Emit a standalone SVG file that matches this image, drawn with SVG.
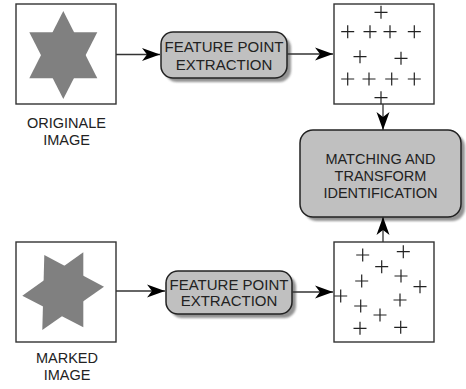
<svg xmlns="http://www.w3.org/2000/svg" width="466" height="389" viewBox="0 0 466 389">
<defs>
<style>
.frame{fill:#fff;stroke:#333;stroke-width:1.4}
.star{fill:#808080}
.proc{fill:#c0c0c0;stroke:#222;stroke-width:1.5}
.shadow{fill:#6e6e6e;opacity:0.75}
.lbl{font-family:"Liberation Sans",Arial,sans-serif;font-size:14.5px;fill:#222;text-anchor:middle}
.ptxt{font-family:"Liberation Sans",Arial,sans-serif;font-size:15px;fill:#222;text-anchor:middle}
.mtxt{font-family:"Liberation Sans",Arial,sans-serif;font-size:14.5px;fill:#222;text-anchor:middle}
.conn{stroke:#333;stroke-width:1.3;fill:none;marker-end:url(#ah)}
.pt{stroke:#222;stroke-width:1.2;fill:none}
</style>
<marker id="ah" markerUnits="userSpaceOnUse" markerWidth="20" markerHeight="14" viewBox="-18 -7 20 14" refX="0" refY="0" orient="auto">
<path d="M0,0 L-18,-6.5 L-13,0 L-18,6.5 Z" fill="#000"/>
</marker>
<path id="plus" d="M-6.5,0 H6.5 M0,-6.5 V6.5"/>
<filter id="blur" x="-10%" y="-10%" width="120%" height="120%"><feGaussianBlur stdDeviation="1"/></filter>
</defs>

<g id="original-image">
<rect class="frame" x="16" y="4" width="100" height="100"/>
<polygon class="star" points="63.3,11 29.3,78.3 97.3,78.3"/>
<polygon class="star" points="63.3,99 29.3,32.3 97.3,32.3"/>
<text class="lbl" x="66.5" y="128">ORIGINALE</text>
<text class="lbl" x="66.5" y="145">IMAGE</text>
</g>

<g id="marked-image">
<rect class="frame" x="16" y="242" width="100" height="100"/>
<polygon class="star" points="44.3,255 104,286.7 42.3,330"/>
<polygon class="star" points="83.3,252.3 83.3,327.3 22.3,295.7"/>
<text class="lbl" x="67" y="363">MARKED</text>
<text class="lbl" x="67" y="379.5">IMAGE</text>
</g>

<g id="feature-extraction-1">
<rect class="shadow" filter="url(#blur)" x="165" y="36" width="126" height="46" rx="12"/>
<rect class="proc" x="161" y="32" width="126" height="46" rx="12"/>
<text class="ptxt" x="224" y="52">FEATURE POINT</text>
<text class="ptxt" x="224" y="69.5">EXTRACTION</text>
</g>

<g id="feature-extraction-2">
<rect class="shadow" filter="url(#blur)" x="170" y="275" width="126" height="43" rx="12"/>
<rect class="proc" x="166" y="271" width="126" height="43" rx="12"/>
<text class="ptxt" x="229" y="289.5">FEATURE POINT</text>
<text class="ptxt" x="229" y="306">EXTRACTION</text>
</g>

<g id="feature-points-1">
<rect class="frame" x="334" y="4" width="100" height="100"/>
<g class="pt">
<use href="#plus" x="381" y="12.3"/>
<use href="#plus" x="347.7" y="31.7"/>
<use href="#plus" x="370" y="31.7"/>
<use href="#plus" x="390" y="31.7"/>
<use href="#plus" x="414.3" y="31.7"/>
<use href="#plus" x="360" y="56.7"/>
<use href="#plus" x="401" y="58.3"/>
<use href="#plus" x="347.7" y="79"/>
<use href="#plus" x="369" y="79"/>
<use href="#plus" x="391.7" y="79"/>
<use href="#plus" x="414.3" y="79"/>
<use href="#plus" x="381" y="97.7"/>
</g>
</g>

<g id="feature-points-2">
<rect class="frame" x="334" y="242" width="100" height="100"/>
<g class="pt">
<use href="#plus" x="362.7" y="255"/>
<use href="#plus" x="403.3" y="251.7"/>
<use href="#plus" x="381.7" y="266.7"/>
<use href="#plus" x="401" y="276"/>
<use href="#plus" x="361.7" y="281"/>
<use href="#plus" x="420" y="286.7"/>
<use href="#plus" x="340.7" y="296"/>
<use href="#plus" x="400" y="300"/>
<use href="#plus" x="360.7" y="306"/>
<use href="#plus" x="380" y="315"/>
<use href="#plus" x="360" y="328.3"/>
<use href="#plus" x="400.7" y="327.3"/>
</g>
</g>

<g id="matching">
<rect class="shadow" filter="url(#blur)" x="304" y="134" width="161" height="87" rx="13"/>
<rect class="proc" x="300" y="130" width="161" height="87" rx="13"/>
<text class="mtxt" x="380.5" y="164">MATCHING AND</text>
<text class="mtxt" x="380.5" y="181">TRANSFORM</text>
<text class="mtxt" x="380.5" y="198">IDENTIFICATION</text>
</g>

<g id="connectors">
<line class="conn" x1="116" y1="54.5" x2="160" y2="54.5"/>
<line class="conn" x1="287" y1="54" x2="333" y2="54"/>
<line class="conn" x1="383" y1="104" x2="383" y2="130"/>
<line class="conn" x1="116" y1="291" x2="165" y2="291"/>
<line class="conn" x1="292" y1="292" x2="333" y2="292"/>
<line class="conn" x1="383" y1="242" x2="383" y2="217"/>
</g>
</svg>
